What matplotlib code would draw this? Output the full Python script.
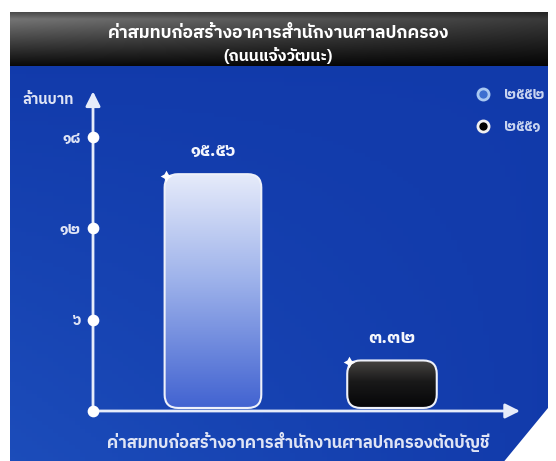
import matplotlib
matplotlib.use("Agg")
import matplotlib.pyplot as plt
import numpy as np
from matplotlib.patches import FancyBboxPatch, Polygon
from matplotlib.lines import Line2D

plt.rcParams['font.family'] = ['IBM Plex Sans Thai', 'DejaVu Sans']
plt.rcParams['font.weight'] = 'bold'

# data
title = "ค่าสมทบก่อสร้างอาคารสำนักงานศาลปกครอง"
subtitle = "(ถนนแจ้งวัฒนะ)"
xlabel = "ค่าสมทบก่อสร้างอาคารสำนักงานศาลปกครองตัดบัญชี"
ylabel = "ล้านบาท"
years = ["๒๕๕๒", "๒๕๕๑"]
values = [15.56, 3.32]
yticks = [6, 12, 18]

TH = str.maketrans("0123456789", "๐๑๒๓๔๕๖๗๘๙")
def thai(s):
    return str(s).translate(TH)

W, H = 556, 461
fig = plt.figure(figsize=(W / 100, H / 100), dpi=100)
fig.patch.set_facecolor("white")

# background drawn in pixel coords
bg = fig.add_axes([0, 0, 1, 1])
bg.set_xlim(0, W)
bg.set_ylim(H, 0)
bg.axis("off")

# header band: dark grey fading to black
gy = np.concatenate([np.linspace(0.30, 0.45, 8), np.linspace(0.45, 0.03, 52)])[:, None]
gx = np.linspace(1.0, 0.5, 200)[None, :]
hdr = np.clip(gy * gx, 0, 1)
bg.imshow(np.dstack([hdr, hdr, hdr]), extent=(10, 548, 67, 12), aspect="auto", zorder=1)

# blue panel
py = np.linspace(0, 1, 100)[:, None]
px = np.linspace(0, 1, 100)[None, :]
r = 0.07 + 0.04 * py * (1 - px)
g = 0.23 + 0.07 * py * (1 - px)
b = 0.67 + 0.06 * py * (1 - px)
one = np.ones_like(px)
bg.imshow(np.dstack([r * one, g * one, b * one]),
          extent=(10, 548, H, 67), aspect="auto", zorder=1)
bg.add_patch(Polygon([(548, 408), (560, 408), (560, 470), (497, 470)],
                     closed=True, facecolor="white", edgecolor="none", zorder=2))

bg.text(279, 33, title, color="white", fontsize=12.5, ha="center", va="center",
        fontweight="bold", zorder=3)
bg.text(278, 55, subtitle, color="white", fontsize=11.5, ha="center", va="center",
        fontweight="bold", zorder=3)

# chart axes: y=0 at px 411, 15.22 px per unit
y_top = 21
ax_h = y_top * 15.22
ax = fig.add_axes([93 / W, (H - 411) / H, (520 - 93) / W, ax_h / H])
ax.patch.set_alpha(0)
xmin, xmax = -0.67, 1.715
ax.set_xlim(xmin, xmax)
ax.set_ylim(0, y_top)
for s in ax.spines.values():
    s.set_visible(False)
ax.set_xticks([])
ax.set_yticks(yticks, labels=[thai(t) for t in yticks])
ax.tick_params(axis="y", length=0, pad=9, labelcolor="#dfe4f5", labelsize=11)

line_c = "#e6ecfa"
ax.annotate("", xy=(xmin, y_top), xytext=(xmin, 0), xycoords="data",
            arrowprops=dict(arrowstyle="-|>", color=line_c, lw=2, mutation_scale=22,
                            shrinkA=0, shrinkB=0), annotation_clip=False)
ax.annotate("", xy=(xmax, 0), xytext=(xmin, 0), xycoords="data",
            arrowprops=dict(arrowstyle="-|>", color=line_c, lw=2, mutation_scale=22,
                            shrinkA=0, shrinkB=0), annotation_clip=False)
ax.scatter([xmin] * (len(yticks) + 1), [0] + yticks, s=55, color="white",
           zorder=5, clip_on=False)

# rounded gradient bars
aspect = (1 / 15.22) / (1 / 179.0)
widths = [0.54, 0.5]
grads = [
    [(0.90, 0.92, 0.98), (0.62, 0.70, 0.92), (0.26, 0.39, 0.82)],
    [(0.28, 0.27, 0.26), (0.10, 0.10, 0.10), (0.02, 0.02, 0.03)],
]
for i, (v, w) in enumerate(zip(values, widths)):
    x0 = i - w / 2
    box = FancyBboxPatch((x0, 0.2), w, v - 0.2,
                         boxstyle="round,pad=0,rounding_size=0.075",
                         mutation_aspect=aspect, facecolor="none",
                         edgecolor="#eef1fa", lw=1.5, zorder=4)
    ax.add_patch(box)
    c0, c1, c2 = grads[i]
    t = np.linspace(0, 1, 120)
    img = np.zeros((120, 60, 3))
    for k in range(3):
        col = np.interp(t, [0, 0.45, 1], [c0[k], c1[k], c2[k]])
        img[:, :, k] = col[:, None]
    im = ax.imshow(np.clip(img, 0, 1), extent=(x0, x0 + w, 0.2, v),
                   aspect="auto", zorder=3, origin="upper")
    im.set_clip_path(box)
    # little sparkle on the top-left corner
    ax.scatter([x0 + 0.01], [v - 0.1], marker=(4, 1, 0), s=70, color="white",
               zorder=6, linewidths=0)
    ax.text(i, v + 1.5, thai(f"{v:.2f}"), color="#f4f6fc", fontsize=13,
            fontweight="bold", ha="center", va="center")
ax.set_xlim(xmin, xmax)
ax.set_ylim(0, y_top)

bg.text(48, 100, ylabel, color="#dfe4f5", fontsize=10.5, ha="center", va="center",
        fontweight="bold", zorder=3)
bg.text(298, 442, xlabel, color="#dfe4f5", fontsize=12, ha="center", va="center",
        fontweight="bold", zorder=3)

handles = [
    Line2D([], [], marker="o", ls="none", markersize=8, markerfacecolor="#3d6fd0",
           markeredgecolor="#a9c8f2", markeredgewidth=2),
    Line2D([], [], marker="o", ls="none", markersize=8, markerfacecolor="black",
           markeredgecolor="#f0f0f0", markeredgewidth=2),
]
leg = fig.legend(handles, years, loc="upper right", bbox_to_anchor=(558 / W, (H - 75) / H),
                 frameon=False, labelspacing=1.25, handletextpad=0.5, fontsize=10.5,
                 labelcolor="#c8d4f0")

fig.savefig("out.png", dpi=100)
